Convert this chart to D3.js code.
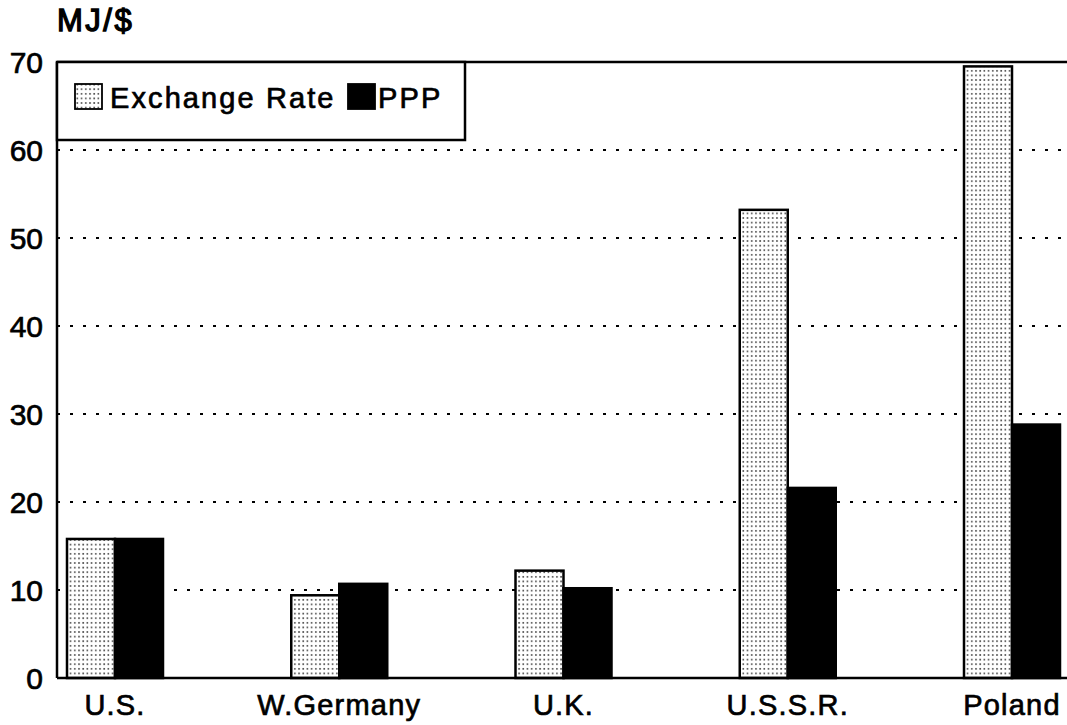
<!DOCTYPE html>
<html><head><meta charset="utf-8">
<script src="https://cdn.jsdelivr.net/npm/d3@7"></script>
<style>body{margin:0;background:#fff}svg{display:block}text{font-family:"Liberation Sans",Arial,sans-serif;fill:#000;stroke:#000;stroke-width:0.7px}</style>
</head><body>
<svg id="c" width="1067" height="725"></svg>
<script>
const categories = ["U.S.", "W.Germany", "U.K.", "U.S.S.R.", "Poland"];
const seriesNames = ["Exchange Rate", "PPP"];
const exchangeRate = [15.8, 9.4, 12.2, 53.2, 69.5];
const ppp = [15.8, 10.7, 10.2, 21.6, 28.8];
const yTicks = [0, 10, 20, 30, 40, 50, 60, 70];
const yLabel = "MJ/$";

(function(){
const svg = d3.select("#c");
const defs = svg.append("defs");
const pat = defs.append("pattern").attr("id","dots").attr("width",4.2).attr("height",4.6).attr("patternUnits","userSpaceOnUse");
pat.append("rect").attr("width",4.2).attr("height",4.6).attr("fill","#fff");
pat.append("rect").attr("x",1).attr("y",1).attr("width",1.6).attr("height",1.6).attr("fill","#444");

const pLeft = 57, pRight = 1067, pTop = 62, pBottom = 678;
const y = d3.scaleLinear().domain([0,70]).range([pBottom, pTop]);
const x = d3.scalePoint().domain(categories).range([115, 1012]);
const sub = d3.scaleBand().domain(seriesNames).range([-48, 48]).padding(0);

// gridlines
svg.append("g").selectAll("line").data(yTicks.filter(t => t > 0 && t < 70)).join("line")
  .attr("x1", pLeft).attr("x2", pRight).attr("y1", d => y(d)).attr("y2", d => y(d))
  .attr("stroke","#000").attr("stroke-width",2).attr("stroke-dasharray","3,10");

// frame
svg.append("line").attr("x1",pLeft).attr("x2",pRight).attr("y1",y(70)).attr("y2",y(70)).attr("stroke","#000").attr("stroke-width",2.5);
svg.append("line").attr("x1",pLeft).attr("x2",pLeft).attr("y1",y(70)).attr("y2",y(0)).attr("stroke","#000").attr("stroke-width",2.5);

// bars
const data = categories.map((c,i) => ({c, vals:[{s:seriesNames[0], v:exchangeRate[i]},{s:seriesNames[1], v:ppp[i]}]}));
const g = svg.append("g").selectAll("g").data(data).join("g").attr("transform", d => `translate(${x(d.c)},0)`);
g.selectAll("rect").data(d => d.vals).join("rect")
  .attr("x", d => sub(d.s)).attr("width", sub.bandwidth())
  .attr("y", d => y(d.v)).attr("height", d => y(0) - y(d.v))
  .attr("fill", d => d.s === seriesNames[0] ? "url(#dots)" : "#000")
  .attr("stroke","#000").attr("stroke-width",2.5);

// x axis line
svg.append("line").attr("x1",pLeft).attr("x2",pRight).attr("y1",y(0)).attr("y2",y(0)).attr("stroke","#000").attr("stroke-width",2.5);

// y tick labels
svg.append("g").selectAll("text").data(yTicks).join("text")
  .attr("x", 43).attr("y", d => y(d) + 11).attr("text-anchor","end")
  .attr("font-size", 30).text(d => d);

// x labels
svg.append("g").selectAll("text").data(categories).join("text")
  .attr("x", d => x(d)).attr("y", 715).attr("text-anchor","middle")
  .attr("font-size", 29).attr("letter-spacing", 1.2).text(d => d);

// y label
svg.append("text").attr("x", 57).attr("y", 31).attr("font-size", 31).attr("letter-spacing", 2.5)
  .style("stroke-width","1.3px").text(yLabel);

// legend
const lg = svg.append("g");
lg.append("rect").attr("x", pLeft).attr("y", y(70)).attr("width", 408).attr("height", 78)
  .attr("fill","#fff").attr("stroke","#000").attr("stroke-width",2.5);
const legX = [75, 348];
seriesNames.forEach((s,i) => {
  lg.append("rect").attr("x", legX[i]).attr("y", 84).attr("width", 27).attr("height", 25)
    .attr("fill", i === 0 ? "url(#dots)" : "#000").attr("stroke","#000").attr("stroke-width",1.8);
  lg.append("text").attr("x", legX[i] + (i === 0 ? 35 : 30)).attr("y", 108).attr("font-size", 29)
    .attr("letter-spacing", 2.1).text(s);
});
})();
</script>
</body></html>
